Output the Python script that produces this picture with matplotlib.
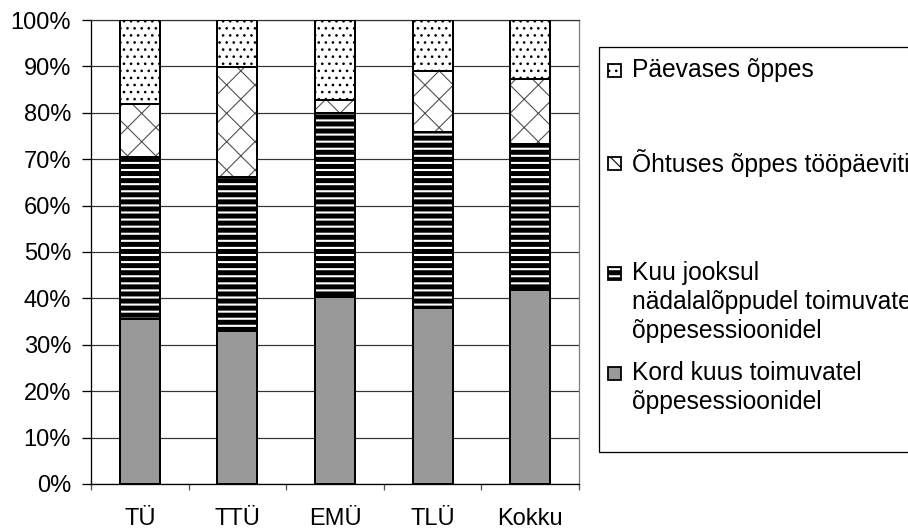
import matplotlib.pyplot as plt
import numpy as np
from matplotlib.patches import Rectangle
from matplotlib.ticker import FuncFormatter, MultipleLocator

plt.rcParams['font.family'] = ['Liberation Sans', 'DejaVu Sans']

####### Dados (percentagens) #######
categorias = ['TÜ', 'TTÜ', 'EMÜ', 'TLÜ', 'Kokku']
kord_kuus = [35.6, 33.0, 40.2, 38.0, 41.8]
kuu_jooksul = [34.9, 33.2, 39.8, 37.9, 31.5]
ohtuses = [11.5, 23.7, 2.8, 13.2, 14.0]
paevases = [18.0, 10.1, 17.2, 10.9, 12.7]

nomes = ['Kord kuus toimuvatel\nõppesessioonidel',
         'Kuu jooksul\nnädalalõppudel toimuvatel\nõppesessioonidel',
         'Õhtuses õppes tööpäeviti',
         'Päevases õppes']

# dpi 85 para a densidade dos hatches ficar perto do original
DPI = 85
W, H = 909, 530


def px(v):
    # converte pixels em pontos
    return v * 72 / DPI


# estilo de cada serie: (face, hatch, cor do hatch, espessura do hatch em px)
estilos = [('#999999', None, 'black', 1.0),
           ('white', '--', 'black', 5.0),
           ('white', 'x', '#505050', 1.1),
           ('white', '..', 'black', 1.2)]

fig = plt.figure(figsize=(W / DPI, H / DPI), dpi=DPI)
ax = fig.add_axes([91 / W, 46 / H, 488 / W, 464 / H])

x = np.arange(len(categorias))
largura = 0.41
base = np.zeros(len(categorias))
for vals, (fc, hatch, hc, hlw) in zip([kord_kuus, kuu_jooksul, ohtuses, paevases], estilos):
    vals = np.array(vals)
    with plt.rc_context({'hatch.linewidth': px(hlw)}):
        ax.bar(x, vals, largura, bottom=base, color=fc, edgecolor=hc, hatch=hatch,
               linewidth=0, zorder=2)
    ax.bar(x, vals, largura, bottom=base, fill=False, edgecolor='black', linewidth=px(2), zorder=3)
    base += vals

# Eixos
ax.set_xlim(-0.5, len(categorias) - 0.5)
ax.set_ylim(0, 100)
ax.yaxis.set_major_locator(MultipleLocator(10))
ax.yaxis.set_major_formatter(FuncFormatter(lambda v, p: f'{v:.0f}%'))
ax.grid(axis='y', color='#333333', linewidth=px(1.2), zorder=1)
ax.set_xticks(x)
ax.set_xticklabels(categorias)
ax.set_xticks(np.arange(-0.5, len(categorias), 1), minor=True)
ax.tick_params(axis='x', which='major', length=0, pad=px(24), labelsize=px(23.6))
ax.tick_params(axis='x', which='minor', length=px(6), width=px(1.3), color='#555555')
ax.tick_params(axis='y', length=px(9), width=px(1.3), pad=px(11), labelsize=px(23.6))
ax.spines['right'].set_color('#808080')
ax.spines['top'].set_color('#333333')
ax.spines['top'].set_linewidth(px(1.2))
ax.spines['right'].set_linewidth(px(1.3))
ax.spines['left'].set_linewidth(px(1.3))
ax.spines['bottom'].set_linewidth(px(1.3))

# Legenda desenhada a mao (caixa sai pela direita, como no original)
lax = fig.add_axes([0, 0, 1, 1], zorder=5)
lax.set_xlim(0, W)
lax.set_ylim(H, 0)
lax.axis('off')
lax.add_patch(Rectangle((599, 47), 340, 405, fill=False, edgecolor='black',
                        linewidth=px(1.3), clip_on=False))

posicoes = [373, 273, 163, 70]
for nome, (fc, hatch, hc, hlw), y in zip(nomes, estilos, posicoes):
    with plt.rc_context({'hatch.linewidth': px(hlw)}):
        lax.add_patch(Rectangle((608, y - 6.5), 13, 13, facecolor=fc, hatch=hatch,
                                edgecolor='black', linewidth=px(1.8), clip_on=False))
    for i, linha in enumerate(nome.split('\n')):
        lax.text(632, y + i * 29, linha, va='center', ha='left', fontsize=px(24.6))

fig.savefig('out.png', dpi=DPI)
